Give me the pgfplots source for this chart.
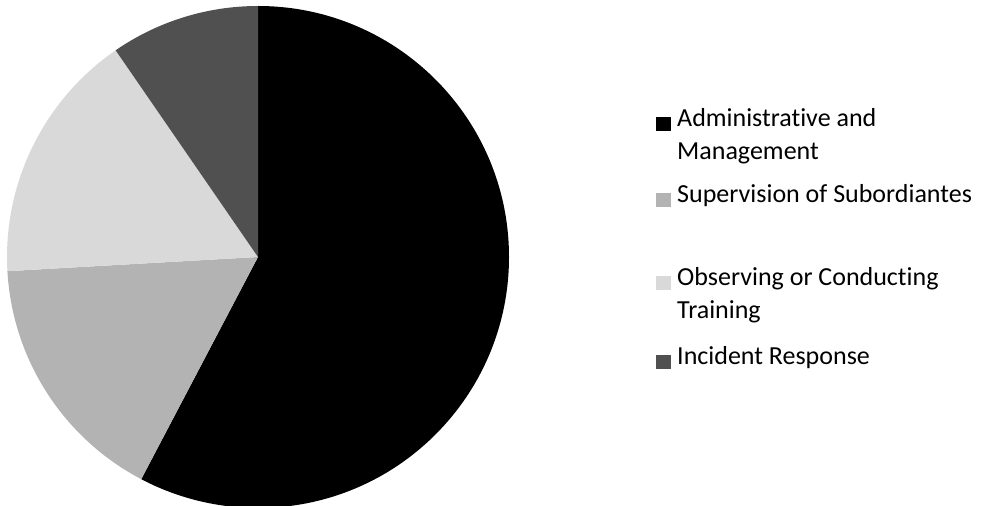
\documentclass[border=0pt]{standalone}
\usepackage{pgfplots}
\pgfplotsset{compat=1.18}
\usepackage{pgfplotstable}
\usepackage{fontspec}
\setmainfont{Carlito}[Ligatures=NoCommon]
\definecolor{cA}{HTML}{000000}
\definecolor{cB}{HTML}{B3B3B3}
\definecolor{cC}{HTML}{D9D9D9}
\definecolor{cD}{HTML}{505050}
\pgfplotstableread{
share
57.7
16.4
16.3
9.6
}\piedata
\begin{document}
\begin{tikzpicture}[font=\fontsize{26}{31}\selectfont]
\pgfplotstablegetelem{0}{share}\of\piedata \pgfmathsetmacro\aA{90-3.6*\pgfplotsretval}
\pgfplotstablegetelem{1}{share}\of\piedata \pgfmathsetmacro\aB{\aA-3.6*\pgfplotsretval}
\pgfplotstablegetelem{2}{share}\of\piedata \pgfmathsetmacro\aC{\aB-3.6*\pgfplotsretval}
\pgfplotstablegetelem{3}{share}\of\piedata \pgfmathsetmacro\aD{\aC-3.6*\pgfplotsretval}
\begin{axis}[x=1pt,y=1pt,xmin=0,xmax=989,ymin=0,ymax=506,hide axis,scale only axis,clip=true]
\fill[cA] (axis cs:258,249) -- ++(90:251pt) arc[start angle=90, end angle=\aA, radius=251pt] -- cycle;
\fill[cB] (axis cs:258,249) -- ++(\aA:251pt) arc[start angle=\aA, end angle=\aB, radius=251pt] -- cycle;
\fill[cC] (axis cs:258,249) -- ++(\aB:251pt) arc[start angle=\aB, end angle=\aC, radius=251pt] -- cycle;
\fill[cD] (axis cs:258,249) -- ++(\aC:251pt) arc[start angle=\aC, end angle=\aD, radius=251pt] -- cycle;
% legend
\fill[cA] (axis cs:656,{506-131}) rectangle (axis cs:671,{506-117});
\fill[cB] (axis cs:656,{506-207}) rectangle (axis cs:671,{506-193});
\fill[cC] (axis cs:656,{506-290}) rectangle (axis cs:671,{506-276});
\fill[cD] (axis cs:656,{506-369}) rectangle (axis cs:671,{506-355});
\node[anchor=base west,inner sep=0pt] at (axis cs:677,{506-126.7}) {Administrative and};
\node[anchor=base west,inner sep=0pt] at (axis cs:677,{506-159.3}) {Management};
\node[anchor=base west,inner sep=0pt] at (axis cs:677,{506-202.7}) {Supervision of Subordiantes};
\node[anchor=base west,inner sep=0pt] at (axis cs:677,{506-285.7}) {Observing or Conducting};
\node[anchor=base west,inner sep=0pt] at (axis cs:677,{506-318.3}) {Training};
\node[anchor=base west,inner sep=0pt] at (axis cs:677,{506-364.7}) {Incident Response};
\end{axis}
\pgfresetboundingbox
\path[use as bounding box] (current axis.south west) rectangle (current axis.north east);
\end{tikzpicture}
\end{document}
